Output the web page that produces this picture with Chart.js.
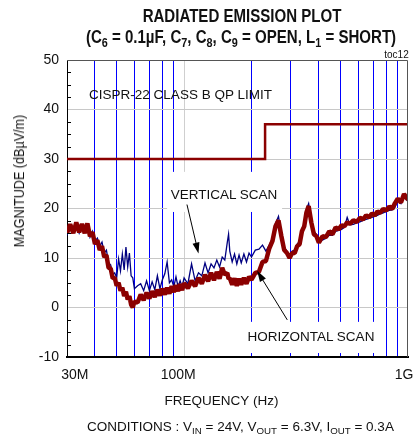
<!DOCTYPE html>
<html lang="en">
<head>
<meta charset="UTF-8">
<script src="https://cdn.jsdelivr.net/npm/chart.js@4.4.0/dist/chart.umd.min.js"></script>
<title>Radiated emission plot</title>
<style>
  body { margin: 0; background: #fff; font-family: 'Liberation Sans', Arial, sans-serif; color: #111; }
  #wrap { position: relative; width: 413px; height: 437px; overflow: hidden; }
  #chart1 { position: absolute; left: 0; top: 0; }
  .txt { position: absolute; white-space: nowrap; line-height: 1; transform: translate(-50%, -50%); font-size: 13.5px; }
  .title { font-weight: bold; font-size: 17.5px; transform: translate(-50%, -50%) scaleX(0.86); }
  sub { font-size: 0.72em; vertical-align: -0.28em; line-height: 0; }
</style>
</head>
<body>
<div id="wrap">
  <canvas id="chart1" width="413" height="437"></canvas>
  <div class="txt title" style="left:242px; top:16.5px;">RADIATED EMISSION PLOT</div>
  <div class="txt title" style="left:241px; top:38px;">(C<sub>6</sub> = 0.1µF, C<sub>7</sub>, C<sub>8</sub>, C<sub>9</sub> = OPEN, L<sub>1</sub> = SHORT)</div>
  <div class="txt" style="left:396.5px; top:55px; font-size:10px;">toc12</div>
  <div class="txt" style="left:19px; top:181px; font-size:14px; transform: translate(-50%, -50%) rotate(-90deg) scaleX(0.9);">MAGNITUDE (dBµV/m)</div>
  <div class="txt" style="left:221.5px; top:401px;">FREQUENCY (Hz)</div>
  <div class="txt" style="left:240.5px; top:427px;">CONDITIONS : V<sub>IN</sub> = 24V, V<sub>OUT</sub> = 6.3V, I<sub>OUT</sub> = 0.3A</div>
  <div class="txt" style="left:180.5px; top:95px;">CISPR-22 CLASS B QP LIMIT</div>
  <div class="txt" style="left:224px; top:195px;">VERTICAL SCAN</div>
  <div class="txt" style="left:311px; top:337px;">HORIZONTAL SCAN</div>
</div>

<script>
// frequency in MHz
var freqMHz = [30,31,32,33,34,35,36,37,38,39,40,41,42,43,44,45,46,47,48,49,50,51,52,53,54,55,56,57,58,59,60,
  62,64,66,68,70,72,74,76,78,80,82,84,86,88,90,92,94,96,98,100,
  104,108,112,116,120,124,128,132,136,140,144,148,152,156,158,
  160,164,168,172,176,180,185,190,195,200,
  208,216,224,232,240,248,256,264,272,280,288,296,304,312,320,328,336,344,352,360,370,380,390,400,
  415,430,445,460,475,490,505,520,535,550,570,590,610,630,650,670,690,710,730,750,775,800,825,850,875,900,930,960,1000];

// horizontal scan (dBuV/m)
var horizontalScan = [15.0,16.8,15.0,17.2,15.2,16.9,15.0,17.0,14.4,15.2,12.8,13.6,11.6,12.4,10.2,10.6,8.0,7.9,5.9,6.0,4.4,5.0,3.4,4.0,2.3,3.2,1.6,2.3,0.6,0.0,1.2,
  1.0,2.6,1.5,3.0,1.8,3.3,2.1,3.6,2.4,3.8,2.6,4.0,2.8,4.3,3.1,4.5,3.3,4.7,3.5,4.9,
  3.9,5.4,4.3,6.0,4.8,6.6,5.3,7.0,5.5,7.2,5.8,8.0,6.6,7.0,5.8,
  5.9,4.6,5.9,4.4,5.8,4.6,6.0,4.8,6.2,5.6,
  7.0,7.2,9.2,9.4,11.9,13.4,16.4,17.6,14.4,11.6,11.0,10.0,11.0,11.0,12.4,12.8,15.4,16.4,19.2,20.5,17.2,14.8,14.4,13.1,
  14.4,14.2,15.4,14.8,16.2,15.8,16.6,16.4,17.2,16.9,17.6,17.3,18.1,17.8,18.6,18.2,19.0,18.6,19.4,19.1,19.9,19.6,20.4,19.9,21.1,22.0,21.2,22.9,21.8];

// vertical scan (dBuV/m)
var verticalScan = [14.6,16.4,15.4,16.6,15.0,16.4,15.4,16.6,14.2,15.4,13.4,14.0,12.4,13.2,11.0,11.6,9.0,8.6,6.6,7.0,6.0,9.8,7.4,10.8,7.6,12.2,8.2,11.0,6.4,6.0,3.8,
  4.4,4.8,3.4,5.4,3.4,5.2,3.6,6.4,3.8,5.6,6.8,9.2,5.0,5.6,4.2,6.2,4.2,5.4,4.2,6.0,
  4.8,8.8,5.4,7.0,6.4,9.0,7.0,8.8,8.0,9.6,8.2,10.2,9.6,13.2,14.8,
  11.4,9.2,10.8,8.8,10.6,9.0,10.8,9.2,11.0,10.2,
  11.6,11.8,12.6,11.4,12.6,14.0,17.0,18.4,14.8,12.2,11.4,10.6,11.4,11.6,12.8,13.4,15.8,17.0,19.8,21.0,17.6,15.4,14.8,13.6,
  13.6,14.0,14.6,14.6,15.4,15.6,15.8,16.2,18.2,16.7,16.8,17.1,17.3,17.6,17.8,18.0,18.2,18.4,18.6,18.9,19.1,19.4,19.6,19.7,20.3,21.6,21.0,22.4,21.4];

// CISPR-22 class B QP limit
var limitFreq = [30, 230, 230, 1000];
var limitVals = [30, 30, 37, 37];

var xTicks = [30,40,50,60,70,80,90,100,200,300,400,500,600,700,800,900,1000];
var xLabels = {30: '    30M', 100: '100M   ', 1000: '1G  '};

// white boxes behind the scan labels (MHz, dB)
var labelBoxes = [
  {f0: 84, f1: 274, v0: 27.4, v1: 19.3},
  {f0: 178, f1: 752, v0: -2.9, v1: -9.2}
];
// arrows: from (f, dB) to tip (f, dB)
var arrows = [
  {f0: 103, v0: 20.8, f1: 116, v1: 10.9},
  {f0: 289, v0: -2.5, f1: 212, v1: 7.4}
];

function pts(fs, vs) {
  return fs.map((f, i) => ({x: f, y: vs[i]}));
}

var extras = {
  id: 'extras',
  beforeDatasetsDraw(chart) {
    var ctx = chart.ctx, x = chart.scales.x, y = chart.scales.y;
    ctx.save();
    ctx.fillStyle = '#fff';
    labelBoxes.forEach(b => {
      var x0 = x.getPixelForValue(b.f0), x1 = x.getPixelForValue(b.f1);
      var y0 = y.getPixelForValue(b.v0), y1 = y.getPixelForValue(b.v1);
      ctx.fillRect(x0, y0, x1 - x0, y1 - y0);
    });
    ctx.restore();
  },
  afterDatasetsDraw(chart) {
    var ctx = chart.ctx, x = chart.scales.x, y = chart.scales.y, a = chart.chartArea;
    ctx.save();
    // top and right frame
    ctx.strokeStyle = '#555';
    ctx.lineWidth = 1;
    ctx.beginPath();
    ctx.moveTo(a.left, a.top + 0.5);
    ctx.lineTo(a.right - 0.5, a.top + 0.5);
    ctx.lineTo(a.right - 0.5, a.bottom);
    ctx.stroke();
    // minor ticks on the left axis
    ctx.strokeStyle = '#000';
    ctx.beginPath();
    for (var v = -7.5; v < 50; v += 2.5) {
      if (v % 10 === 0) continue;
      var py = Math.round(y.getPixelForValue(v)) + 0.5;
      ctx.moveTo(a.left, py);
      ctx.lineTo(a.left + 4, py);
    }
    ctx.stroke();
    // arrows
    ctx.fillStyle = '#000';
    arrows.forEach(ar => {
      var x0 = x.getPixelForValue(ar.f0), y0 = y.getPixelForValue(ar.v0);
      var x1 = x.getPixelForValue(ar.f1), y1 = y.getPixelForValue(ar.v1);
      var ang = Math.atan2(y1 - y0, x1 - x0);
      ctx.beginPath();
      ctx.moveTo(x0, y0);
      ctx.lineTo(x1 - 8 * Math.cos(ang), y1 - 8 * Math.sin(ang));
      ctx.stroke();
      ctx.beginPath();
      ctx.moveTo(x1, y1);
      ctx.lineTo(x1 - 11 * Math.cos(ang) + 3.5 * Math.sin(ang), y1 - 11 * Math.sin(ang) - 3.5 * Math.cos(ang));
      ctx.lineTo(x1 - 11 * Math.cos(ang) - 3.5 * Math.sin(ang), y1 - 11 * Math.sin(ang) + 3.5 * Math.cos(ang));
      ctx.closePath();
      ctx.fill();
    });
    ctx.restore();
  }
};

Chart.defaults.font.family = "'Liberation Sans', Arial, sans-serif";
Chart.defaults.color = '#111';

var ctx = document.getElementById('chart1').getContext('2d');
var myChart = new Chart(ctx, {
  type: 'line',
  data: {
    datasets: [
      { label: 'limit', data: pts(limitFreq, limitVals), borderColor: '#8b0000', borderWidth: 2.5, pointRadius: 0 },
      { label: 'horizontal', data: pts(freqMHz, horizontalScan), borderColor: '#8b0000', borderWidth: 4.5, borderJoinStyle: 'bevel', pointRadius: 0 },
      { label: 'vertical', data: pts(freqMHz, verticalScan), borderColor: '#000080', borderWidth: 1.3, pointRadius: 0 }
    ]
  },
  options: {
    responsive: false,
    devicePixelRatio: 1,
    animation: false,
    layout: { padding: { top: 60, right: 5, left: 0, bottom: 0 } },
    plugins: { legend: { display: false }, tooltip: { enabled: false } },
    scales: {
      x: {
        type: 'logarithmic',
        min: 30,
        max: 1000,
        afterBuildTicks: s => { s.ticks = xTicks.map(v => ({value: v})); },
        afterFit: s => { s.height = 80; s.paddingLeft = 0; s.paddingRight = 0; },
        grid: {
          drawTicks: false,
          color: c => {
            var v = c.tick.value;
            if (v === 30 || v === 1000) return 'rgba(0,0,0,0)';
            if (v === 100) return '#cfcfcf';
            return '#0000ff';
          }
        },
        border: { display: true, color: '#000', width: 2 },
        ticks: {
          autoSkip: false,
          maxRotation: 0,
          padding: 10,
          font: { size: 14 },
          callback: v => xLabels[v] || ''
        }
      },
      y: {
        min: -10,
        max: 50,
        afterFit: s => { s.width = 67; s.paddingTop = 0; s.paddingBottom = 0; },
        grid: {
          drawTicks: false,
          color: c => (c.tick.value === -10 || c.tick.value === 50) ? 'rgba(0,0,0,0)' : '#c8c8c8'
        },
        border: { display: true, color: '#000', width: 1 },
        ticks: { stepSize: 10, padding: 8, font: { size: 14 } }
      }
    }
  },
  plugins: [extras]
});
</script>
</body>
</html>
